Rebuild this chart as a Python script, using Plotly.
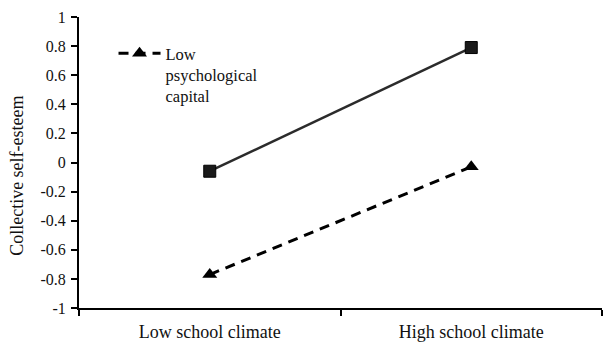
import plotly.graph_objects as go

# Simple-slopes data: school climate x psychological capital
climate = ["Low school climate", "High school climate"]
high_capital = [-0.06, 0.79]
low_capital = [-0.77, -0.03]
y_ticks = [-1, -0.8, -0.6, -0.4, -0.2, 0, 0.2, 0.4, 0.6, 0.8, 1]
y_tick_text = ["-1", "-0.8", "-0.6", "-0.4", "-0.2", "0", "0.2", "0.4", "0.6", "0.8", "1"]

FONT = "Liberation Serif"

fig = go.Figure()
fig.add_trace(go.Scatter(
    x=climate, y=high_capital, mode="lines+markers",
    name="High psychological capital", showlegend=False,
    line=dict(color="#2b2b2b", width=2.5),
    marker=dict(symbol="square", size=12, color="#1a1a1a",
                line=dict(color="#000000", width=1)),
))
fig.add_trace(go.Scatter(
    x=climate, y=low_capital, mode="lines+markers",
    name="Low<br>psychological<br>capital",
    line=dict(color="#000000", width=3, dash="10px,7px"),
    marker=dict(symbol="triangle-up", size=13, color="#000000"),
))

fig.update_layout(
    width=603, height=343,
    margin=dict(l=79, r=1, t=17, b=35),
    paper_bgcolor="white", plot_bgcolor="white",
    font=dict(family=FONT, size=18, color="#111111"),
    legend=dict(x=0.066, y=0.935, xanchor="left", yanchor="top",
                bgcolor="rgba(0,0,0,0)", valign="top", itemwidth=42,
                tracegroupgap=0,
                font=dict(family=FONT, size=16.5, color="#111111")),
    xaxis=dict(
        type="category", range=[-0.5, 1.5], tickson="boundaries",
        showgrid=False, zeroline=False,
        showline=True, linecolor="#000000", linewidth=2,
        ticks="outside", ticklen=6, tickwidth=1.5, tickcolor="#000000",
        tickfont=dict(family=FONT, size=18, color="#111111"),
        ticklabelstandoff=6,
    ),
    yaxis=dict(
        range=[-1, 1], tickvals=y_ticks, ticktext=y_tick_text,
        showgrid=False, zeroline=False,
        showline=True, linecolor="#000000", linewidth=2,
        ticks="outside", ticklen=6, tickwidth=1.5, tickcolor="#000000",
        tickfont=dict(family=FONT, size=16, color="#111111"),
        ticklabelstandoff=2,
    ),
    annotations=[dict(
        text="Collective self-esteem", textangle=-90,
        xref="paper", yref="paper", x=-0.1186, y=0.454,
        xanchor="center", yanchor="middle", showarrow=False,
        font=dict(family=FONT, size=18, color="#111111"),
    )],
)

fig.write_html("out.html")
